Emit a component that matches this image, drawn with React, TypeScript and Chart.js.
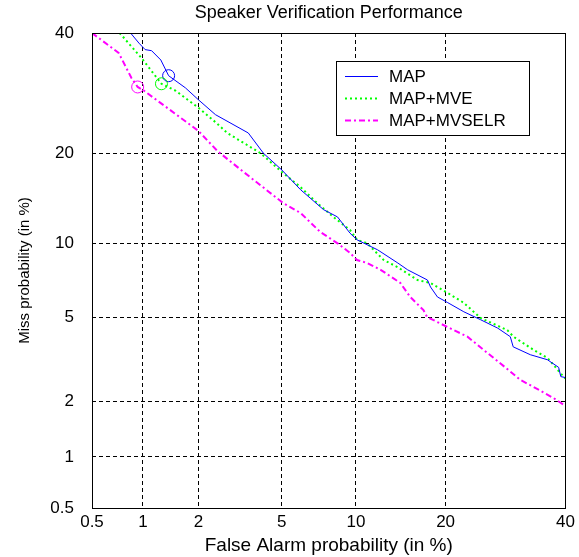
import React, { useEffect, useRef } from 'react';
import { Chart, registerables } from 'chart.js';

Chart.register(...registerables);

const TITLE = 'Speaker Verification Performance';
const X_TITLE = 'False Alarm probability (in %)';
const Y_TITLE = 'Miss probability (in %)';

const tickValues = [0.5, 1, 2, 5, 10, 20, 40];
const tickLabels = ['0.5', '1', '2', '5', '10', '20', '40'];

const seriesNames = ['MAP', 'MAP+MVE', 'MAP+MVSELR'];

// MAP (blue, solid)
const mapFA = [0.85, 0.95, 1.03, 1.12, 1.26, 1.39, 1.71, 2.0, 2.44, 3.52, 4.14, 5.0, 6.02, 7.49, 8.51, 9.5, 10.1, 12.0, 14.1, 15.2, 17.6, 18.0, 18.9, 20.3, 22.6, 25.1, 27.9, 30.0, 30.5, 33.5, 36.6, 38.7, 39.1, 40];
const mapMiss = [40, 38.1, 36.9, 36.7, 35.0, 32.2, 30.1, 28.1, 25.7, 22.9, 20.0, 17.8, 15.4, 13.2, 12.45, 10.9, 10.3, 9.45, 8.41, 7.91, 7.2, 6.74, 6.13, 5.8, 5.3, 4.9, 4.49, 4.11, 3.69, 3.39, 3.21, 2.95, 2.66, 2.63];

// MAP+MVE (green, dotted)
const mveFA = [0.734, 0.98, 1.27, 1.52, 2.0, 2.47, 2.79, 4.02, 5.07, 6.02, 7.06, 8.19, 9.5, 10.1, 11.0, 12.6, 14.06, 16.37, 18.0, 20.27, 22.56, 25.14, 29.5, 30.54, 34.1, 36.64, 39.6, 40];
const mveMiss = [40, 35.4, 30.8, 29.6, 26.8, 24.4, 22.9, 20.0, 17.4, 15.7, 13.9, 12.45, 11.2, 10.3, 10.0, 8.64, 8.11, 7.2, 7.0, 6.37, 5.8, 4.98, 4.4, 4.11, 3.57, 3.27, 2.66, 2.6];

// MAP+MVSELR (magenta, dash-dot)
const selrFA = [0.5, 0.724, 0.86, 0.934, 1.0, 1.438, 2.0, 2.5, 3.59, 5.07, 6.02, 7.27, 8.51, 9.5, 10.1, 11.0, 12.3, 14.38, 15.5, 17.1, 17.56, 20.27, 23.13, 26.25, 28.3, 31.75, 34.1, 37.7, 40];
const selrMiss = [40, 36.3, 31.8, 30.25, 29.75, 26.3, 23.2, 20.3, 16.9, 13.9, 12.86, 11.0, 10.0, 9.2, 8.64, 8.41, 7.91, 7.0, 6.13, 5.39, 5.03, 4.54, 4.11, 3.45, 3.09, 2.56, 2.36, 2.08, 1.89];

// operating-point circles (MAP, MAP+MVE, MAP+MVSELR)
const markerFA = [1.39, 1.27, 0.934];
const markerMiss = [32.2, 30.8, 30.25];

const colors = ['#0000ff', '#00ff00', '#ff00ff'];
const widths = [1, 2, 2];
const dashes: number[][] = [[], [2, 3], [6, 3, 2, 3]];

const FONT = 'Liberation Sans, Arial, Helvetica, sans-serif';

function probit(p: number): number {
  const a = [-3.969683028665376e1, 2.209460984245205e2, -2.759285104469687e2, 1.38357751867269e2, -3.066479806614716e1, 2.506628277459239];
  const b = [-5.447609879822406e1, 1.615858368580409e2, -1.556989798598866e2, 6.680131188771972e1, -1.328068155288572e1];
  const c = [-7.784894002430293e-3, -3.223964580411365e-1, -2.400758277161838, -2.549671324938036, 4.374664141464968, 2.938163982698783];
  const d = [7.784695709041462e-3, 3.224671290700398e-1, 2.445134137142996, 3.754408661907416];
  const plow = 0.02425;
  const phigh = 1 - plow;
  if (p < plow) {
    const q = Math.sqrt(-2 * Math.log(p));
    return (((((c[0] * q + c[1]) * q + c[2]) * q + c[3]) * q + c[4]) * q + c[5]) /
      ((((d[0] * q + d[1]) * q + d[2]) * q + d[3]) * q + 1);
  }
  if (p <= phigh) {
    const q = p - 0.5;
    const r = q * q;
    return (((((a[0] * r + a[1]) * r + a[2]) * r + a[3]) * r + a[4]) * r + a[5]) * q /
      (((((b[0] * r + b[1]) * r + b[2]) * r + b[3]) * r + b[4]) * r + 1);
  }
  const q = Math.sqrt(-2 * Math.log(1 - p));
  return -(((((c[0] * q + c[1]) * q + c[2]) * q + c[3]) * q + c[4]) * q + c[5]) /
    ((((d[0] * q + d[1]) * q + d[2]) * q + d[3]) * q + 1);
}

const toPts = (fa: number[], miss: number[]) =>
  fa.map((v, i) => ({ x: probit(v / 100), y: probit(miss[i] / 100) }));

const boxPlugin = {
  id: 'boxAndLegend',
  afterDraw(chart: any) {
    const { ctx, chartArea } = chart;
    const { left, top, right, bottom } = chartArea;
    ctx.save();
    ctx.strokeStyle = '#000';
    ctx.lineWidth = 1;
    ctx.setLineDash([]);
    ctx.strokeRect(Math.round(left) + 0.5, Math.round(top) + 0.5, Math.round(right - left) - 1, Math.round(bottom - top));

    // legend
    const lx = left + 244;
    const ly = top + 28;
    const lw = 193;
    const lh = 74;
    ctx.fillStyle = '#fff';
    ctx.fillRect(lx, ly, lw, lh);
    ctx.strokeRect(Math.round(lx) + 0.5, Math.round(ly) + 0.5, lw, lh);
    ctx.font = `17px ${FONT}`;
    ctx.textBaseline = 'middle';
    ctx.textAlign = 'left';
    seriesNames.forEach((name, i) => {
      const y = ly + 15 + i * 22;
      ctx.beginPath();
      ctx.strokeStyle = colors[i];
      ctx.lineWidth = widths[i];
      ctx.setLineDash(dashes[i]);
      ctx.moveTo(lx + 9, Math.round(y) + 0.5);
      ctx.lineTo(lx + 42, Math.round(y) + 0.5);
      ctx.stroke();
      ctx.setLineDash([]);
      ctx.fillStyle = '#000';
      ctx.fillText(name, lx + 53, y + 1);
    });
    ctx.restore();
  },
};

export default function App() {
  const ref = useRef<HTMLCanvasElement | null>(null);

  useEffect(() => {
    if (!ref.current) return;
    Chart.defaults.font.family = FONT;
    const tickProbits = tickValues.map((v) => probit(v / 100));
    const xMin = probit(tickValues[0] / 100);
    const xMax = probit(tickValues[tickValues.length - 1] / 100);

    const lineSets = [
      toPts(mapFA, mapMiss),
      toPts(mveFA, mveMiss),
      toPts(selrFA, selrMiss),
    ].map((data, i) => ({
      label: seriesNames[i],
      data,
      showLine: true,
      borderColor: colors[i],
      backgroundColor: colors[i],
      borderWidth: widths[i],
      borderDash: dashes[i],
      pointRadius: 0,
      fill: false,
      tension: 0,
    }));

    const markerSet = {
      label: 'points',
      data: toPts(markerFA, markerMiss),
      showLine: false,
      pointRadius: 6,
      pointStyle: 'circle',
      pointBorderColor: colors,
      pointBackgroundColor: 'rgba(0,0,0,0)',
      pointBorderWidth: 1,
    };

    const chart = new Chart(ref.current, {
      type: 'scatter',
      data: { datasets: [...lineSets, markerSet] as any },
      options: {
        animation: false,
        responsive: false,
        devicePixelRatio: 1,
        events: [],
        layout: { padding: { left: 0, right: 13, top: 0, bottom: 0 } },
        plugins: {
          legend: { display: false },
          tooltip: { enabled: false },
          title: {
            display: true,
            text: TITLE,
            fullSize: false,
            color: '#000',
            font: { size: 18, weight: 'normal', family: FONT },
            padding: { top: 2.5, bottom: 8.9 },
          },
        },
        scales: {
          x: {
            type: 'linear',
            min: xMin,
            max: xMax,
            afterBuildTicks: (scale: any) => {
              scale.ticks = tickProbits.map((v) => ({ value: v }));
            },
            afterFit: (scale: any) => {
              scale.height = 49;
            },
            ticks: {
              autoSkip: false,
              maxRotation: 0,
              color: '#000',
              padding: 4,
              font: { size: 17, family: FONT },
              callback: (_v: any, i: number) => tickLabels[i],
            },
            grid: { color: '#000', lineWidth: 1, drawTicks: false },
            border: { display: false, dash: [4, 3] },
            title: {
              display: true,
              text: X_TITLE,
              color: '#000',
              font: { size: 19, family: FONT },
              padding: { top: 0, bottom: 0 },
            },
          },
          y: {
            type: 'linear',
            min: xMin,
            max: xMax,
            afterBuildTicks: (scale: any) => {
              scale.ticks = tickProbits.map((v) => ({ value: v }));
            },
            afterFit: (scale: any) => {
              scale.width = 92;
            },
            ticks: {
              autoSkip: false,
              color: '#000',
              padding: 18,
              font: { size: 17, family: FONT },
              callback: (_v: any, i: number) => tickLabels[i],
            },
            grid: { color: '#000', lineWidth: 1, drawTicks: false },
            border: { display: false, dash: [4, 3] },
            title: {
              display: true,
              text: Y_TITLE,
              color: '#000',
              font: { size: 15, family: FONT },
              padding: { top: 16, bottom: 0 },
            },
          },
        },
      },
      plugins: [boxPlugin],
    } as any);

    return () => chart.destroy();
  }, []);

  return (
    <div style={{ position: 'absolute', left: 0, top: 0, width: 579, height: 557, background: '#fff' }}>
      <canvas ref={ref} width={579} height={557} style={{ display: 'block', width: 579, height: 557 }} />
    </div>
  );
}
